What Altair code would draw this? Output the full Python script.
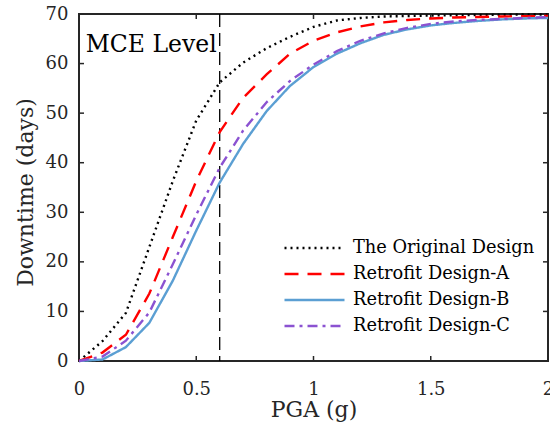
import altair as alt
import pandas as pd

# PGA grid (g) and downtime (days) for each design
pga = [0.0, 0.1, 0.2, 0.3, 0.4, 0.5, 0.6, 0.7, 0.8, 0.9, 1.0,
       1.1, 1.2, 1.3, 1.4, 1.5, 1.6, 1.7, 1.8, 1.9, 2.0]
original = [0.0, 4.0, 9.7, 23.0, 36.3, 48.5, 56.2, 60.2, 63.1, 65.4, 67.4,
            68.7, 69.2, 69.5, 69.6, 69.7, 69.75, 69.8, 69.85, 69.9, 69.9]
design_a = [0.0, 1.7, 5.3, 13.6, 25.0, 36.3, 46.2, 53.1, 57.8, 62.0, 64.6,
            66.3, 67.5, 68.3, 68.8, 69.1, 69.3, 69.4, 69.5, 69.55, 69.6]
design_b = [0.0, 0.3, 2.8, 7.7, 16.2, 26.3, 36.0, 43.8, 50.4, 55.5, 59.3,
            62.0, 64.1, 65.8, 66.9, 67.7, 68.2, 68.6, 68.9, 69.1, 69.2]
design_c = [0.0, 0.9, 4.1, 9.8, 19.5, 29.5, 39.0, 46.5, 52.2, 56.5, 59.8,
            62.5, 64.6, 66.1, 67.2, 68.0, 68.5, 68.8, 69.0, 69.2, 69.4]

series_names = ["The Original Design", "Retrofit Design-A",
                "Retrofit Design-B", "Retrofit Design-C"]
series_values = [original, design_a, design_b, design_c]
series_colors = ["#000000", "#FF0000", "#5B9FD3", "#8B52D1"]
series_dashes = [[2, 4], [14, 9], [1, 0], [10, 5, 3, 5]]

x_ticks = [0, 0.5, 1, 1.5, 2]
y_ticks = [0, 10, 20, 30, 40, 50, 60, 70]

mce_pga = 0.6
mce_label = "MCE Level"
mce_label_y = 62.3

W, H = 469, 347
FONT = "DejaVu Serif"
INK = "#262626"

rows = []
for name, vals in zip(series_names, series_values):
    for x, y in zip(pga, vals):
        rows.append({"pga": x, "downtime": y, "design": name})
curves = pd.DataFrame(rows)

x_axis = alt.Axis(values=x_ticks, format="~g", title="PGA (g)", labelFlush=False,
                  titleBaseline="alphabetic", titleY=55, labelPadding=19)
y_axis = alt.Axis(values=y_ticks, format="d", title="Downtime (days)",
                  titleBaseline="alphabetic", titleX=-47, titleY=178,
                  labelPadding=11, labelFlush=False)
x_enc = alt.X("pga:Q", scale=alt.Scale(domain=[0, 2], nice=False), axis=x_axis)
y_enc = alt.Y("downtime:Q", scale=alt.Scale(domain=[0, 70], nice=False), axis=y_axis)

lines = alt.Chart(curves).mark_line(strokeWidth=2.4).encode(
    x=x_enc,
    y=y_enc,
    color=alt.Color("design:N", sort=series_names, title=None,
                    scale=alt.Scale(domain=series_names, range=series_colors)),
    strokeDash=alt.StrokeDash("design:N", sort=series_names, title=None,
                              scale=alt.Scale(domain=series_names, range=series_dashes)),
    order=alt.Order("pga:Q"),
)

mce_df = pd.DataFrame({"pga": [mce_pga], "downtime": [mce_label_y], "label": [mce_label]})
mce_rule = alt.Chart(mce_df).mark_rule(color="#000000", strokeWidth=1.3,
                                       strokeDash=[13, 6]).encode(
    x=x_enc, y=alt.value(0), y2=alt.value(H))
mce_text = alt.Chart(mce_df).mark_text(font=FONT, fontSize=23.5, color="#000000",
                                       align="right", baseline="alphabetic",
                                       dx=-3).encode(
    x=x_enc, y=y_enc, text="label:N")

# inward ticks on all four sides of the frame
xt = pd.DataFrame({"pga": x_ticks})
yt = pd.DataFrame({"downtime": y_ticks})
tick_style = dict(color=INK, strokeWidth=1.5)
bottom_ticks = alt.Chart(xt).mark_rule(**tick_style).encode(
    x=x_enc, y=alt.value(H), y2=alt.value(H - 5))
top_ticks = alt.Chart(xt).mark_rule(**tick_style).encode(
    x=x_enc, y=alt.value(0), y2=alt.value(5))
left_ticks = alt.Chart(yt).mark_rule(**tick_style).encode(
    y=y_enc, x=alt.value(0), x2=alt.value(5))
right_ticks = alt.Chart(yt).mark_rule(**tick_style).encode(
    y=y_enc, x=alt.value(W), x2=alt.value(W - 5))

chart = alt.layer(
    bottom_ticks, top_ticks, left_ticks, right_ticks,
    mce_rule, lines, mce_text,
).properties(
    width=W, height=H,
    autosize=alt.AutoSizeParams(type="none"),
    padding={"left": 79, "top": 14, "right": 2, "bottom": 71},
).configure_view(
    stroke=INK, strokeWidth=2,
).configure_axis(
    domain=False, ticks=False, grid=False,
    labelFont=FONT, labelFontSize=18, labelColor=INK,
    titleFont=FONT, titleFontSize=22, titleColor=INK, titleFontWeight="normal",
).configure_legend(
    orient="none", legendX=204, legendY=221,
    symbolType="stroke", symbolSize=3600, symbolStrokeWidth=2.4,
    labelFont=FONT, labelFontSize=17.8, labelColor="#000000",
    labelOffset=7, rowPadding=0, clipHeight=26, padding=0,
    labelLimit=400,
)

chart.save("out.html", embed_options={"renderer": "svg", "actions": False})
